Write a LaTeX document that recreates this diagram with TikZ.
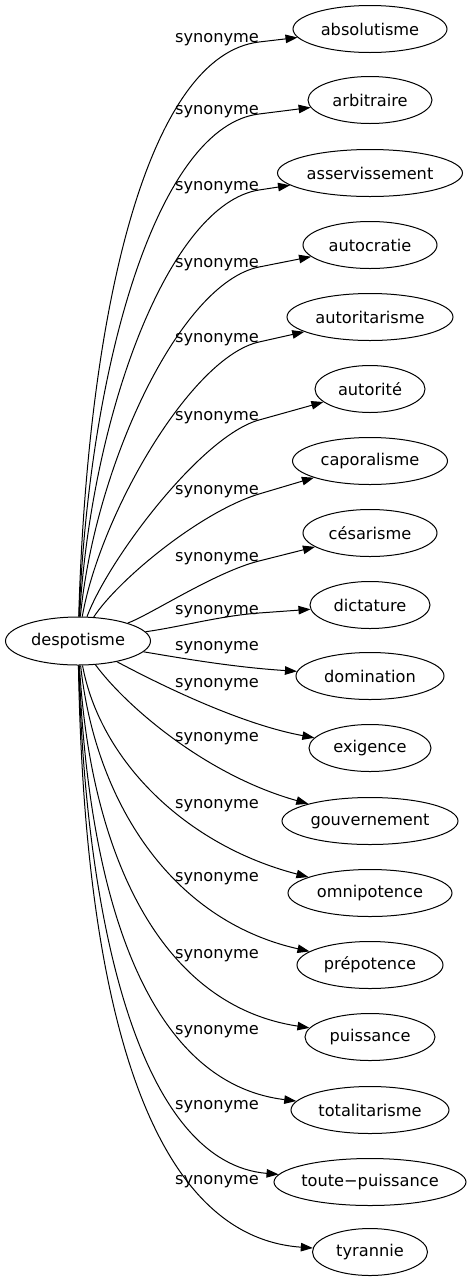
\documentclass[tikz,border=0pt]{standalone}
\usepackage{fontspec}
\setmainfont{DejaVu Sans}
\usetikzlibrary{shapes.geometric,arrows.meta}
\begin{document}
\begin{tikzpicture}[x=1pt,y=-1pt,
  term/.style={draw, ellipse, line width=1pt, inner sep=0pt, minimum height=47pt, font=\fontsize{16.2}{19}\selectfont},
  lab/.style={inner sep=0pt, font=\fontsize{16.2}{19}\selectfont},
  syn/.style={line width=1pt, -{Triangle[length=12pt,width=8.5pt]}}]
\useasboundingbox (0,0) rectangle (470,1283);
\node[term, minimum width=145pt, minimum height=48pt] (despot) at (78,641) {despotisme};
\node[term, minimum width=154pt] (n1) at (370,29) {absolutisme};
\node[term, minimum width=124pt] (n2) at (370,100) {arbitraire};
\node[term, minimum width=185pt] (n3) at (370,173) {asservissement};
\node[term, minimum width=134pt] (n4) at (370,245) {autocratie};
\node[term, minimum width=166pt] (n5) at (370,317) {autoritarisme};
\node[term, minimum width=110pt] (n6) at (370,389) {autorité};
\node[term, minimum width=155pt] (n7) at (370,461) {caporalisme};
\node[term, minimum width=134pt] (n8) at (370,533) {césarisme};
\node[term, minimum width=120pt] (n9) at (370,605) {dictature};
\node[term, minimum width=148pt] (n10) at (370,676) {domination};
\node[term, minimum width=122pt] (n11) at (370,748) {exigence};
\node[term, minimum width=176pt] (n12) at (370,821) {gouvernement};
\node[term, minimum width=164pt] (n13) at (370,893) {omnipotence};
\node[term, minimum width=146pt] (n14) at (370,965) {prépotence};
\node[term, minimum width=130pt] (n15) at (370,1037) {puissance};
\node[term, minimum width=158pt] (n16) at (370,1110) {totalitarisme};
\node[term, minimum width=192pt] (n17) at (370,1182) {\makebox[0pt]{toute−puissance}};
\node[term, minimum width=115pt] (n18) at (370,1252) {tyrannie};
\node[lab] (l1) at (217,40) {synonyme};
\node[lab] (l2) at (217,112) {synonyme};
\node[lab] (l3) at (217,188) {synonyme};
\node[lab] (l4) at (217,265) {synonyme};
\node[lab] (l5) at (217,340) {synonyme};
\node[lab] (l6) at (217,418) {synonyme};
\node[lab] (l7) at (217,492) {synonyme};
\node[lab] (l8) at (217,559) {synonyme};
\node[lab] (l9) at (217,612) {synonyme};
\node[lab] (l10) at (217,648) {synonyme};
\node[lab] (l11) at (217,685) {synonyme};
\node[lab] (l12) at (217,739) {synonyme};
\node[lab] (l13) at (217,806) {synonyme};
\node[lab] (l14) at (217,879) {synonyme};
\node[lab] (l15) at (217,956) {synonyme};
\node[lab] (l16) at (217,1032) {synonyme};
\node[lab] (l17) at (217,1107) {synonyme};
\node[lab] (l18) at (217,1182) {synonyme};
\draw[syn] (despot) .. controls (88,300) and (150,55) .. (259,42) -- (n1);
\draw[syn] (despot) .. controls (90,355) and (160,126) .. (259,114) -- (n2);
\draw[syn] (despot) .. controls (92,410) and (170,204) .. (259,190) -- (n3);
\draw[syn] (despot) .. controls (95,465) and (180,283) .. (259,267) -- (n4);
\draw[syn] (despot) .. controls (100,515) and (191,357) .. (259,342) -- (n5);
\draw[syn] (despot) .. controls (108,560) and (201,436) .. (259,420) -- (n6);
\draw[syn] (despot) .. controls (118,580) and (200,512) .. (259,494) -- (n7);
\draw[syn] (despot) .. controls (150,615) and (215,572) .. (259,561) -- (n8);
\draw[syn] (despot) .. controls (180,627) and (219,616) .. (259,613) -- (n9);
\draw[syn] (despot) .. controls (175,657) and (230,667) .. (n10);
\draw[syn] (despot) .. controls (170,690) and (245,725) .. (n11);
\draw[syn] (despot) .. controls (125,705) and (205,775) .. (n12);
\draw[syn] (despot) .. controls (100,760) and (185,845) .. (n13);
\draw[syn] (despot) .. controls (95,800) and (170,920) .. (n14);
\draw[syn] (despot) .. controls (90,850) and (158,1005) .. (n15);
\draw[syn] (despot) .. controls (88,900) and (148,1083) .. (n16);
\draw[syn] (despot) .. controls (86,935) and (143,1163) .. (n17);
\draw[syn] (despot) .. controls (84,985) and (142,1236) .. (n18);
\end{tikzpicture}
\end{document}
